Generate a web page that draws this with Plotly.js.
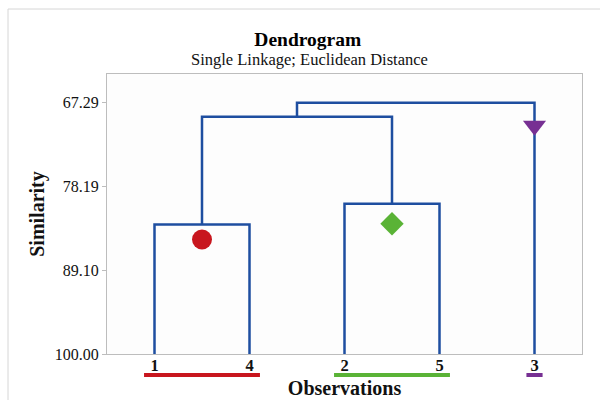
<!DOCTYPE html>
<html>
<head>
<meta charset="utf-8">
<script src="https://cdn.plot.ly/plotly-3.0.1.min.js"></script>
<style>html,body{margin:0;padding:0;background:#fff;}#chart{width:600px;height:400px;}</style>
</head>
<body>
<div id="chart"></div>
<script>
// Leaf order along the x axis
var leafLabels = ['1', '4', '2', '5', '3'];
// Merge steps: node ids 0..4 are leaves (by position), 5+ are clusters
var mergeLeft   = [0, 2, 5, 7];
var mergeRight  = [1, 3, 6, 4];
var mergeHeight = [83.13, 80.44, 69.10, 67.29];
// Tick values of the similarity axis
var yTicks = [67.29, 78.19, 89.10, 100.00];
// Cluster groups (leaf position ranges) and their colours/symbols
var groupStart = [0, 2, 4];
var groupEnd   = [1, 3, 4];
var groupColor = ['#c8161e', '#5ab336', '#773093'];
var groupSymbol = ['circle', 'diamond', 'triangle-down'];
var markerX = [0.5, 2.5, 4];
var markerY = [85.1, 83.04, 70.3];
var markerSize = [20, 18, 20];

var nodeX = [], nodeY = [];
for (var i = 0; i < leafLabels.length; i++) { nodeX.push(i); nodeY.push(100); }
var lx = [], ly = [];
for (var k = 0; k < mergeHeight.length; k++) {
  var a = mergeLeft[k], b = mergeRight[k], h = mergeHeight[k];
  lx.push(nodeX[a], nodeX[a], nodeX[b], nodeX[b], null);
  ly.push(nodeY[a], h, h, nodeY[b], null);
  nodeX.push((nodeX[a] + nodeX[b]) / 2);
  nodeY.push(h);
}

var traces = [
  {x: lx, y: ly, mode: 'lines', type: 'scatter', line: {color: '#1e4ea0', width: 2.5}, hoverinfo: 'skip', showlegend: false},
  {x: markerX, y: markerY, mode: 'markers', type: 'scatter', showlegend: false,
   marker: {color: groupColor, symbol: groupSymbol, size: markerSize, opacity: 1, line: {width: 0}}}
];

var shapes = [
  {type: 'rect', xref: 'paper', yref: 'paper', x0: (8 - 107) / 475, x1: 1.2, y0: -0.5, y1: (354 - 9) / 280,
   line: {color: '#d6d6d6', width: 1}, fillcolor: 'rgba(0,0,0,0)', layer: 'below'}
];
for (var g = 0; g < groupStart.length; g++) {
  var pad = groupStart[g] === groupEnd[g] ? 0.085 : 0.11;
  shapes.push({type: 'line', xref: 'x', yref: 'paper', x0: groupStart[g] - pad, x1: groupEnd[g] + pad,
    y0: -0.075, y1: -0.075, line: {color: groupColor[g], width: 4}});
}

var serif = 'Liberation Serif, Times New Roman, serif';
var layout = {
  width: 600, height: 400,
  margin: {l: 107, r: 18, t: 74, b: 46},
  paper_bgcolor: '#ffffff', plot_bgcolor: '#fdfdfd',
  font: {family: serif, color: '#111'},
  title: {text: '<b>Dendrogram</b>', font: {family: serif, size: 19.5, color: '#000'},
          xref: 'container', x: 0.513, xanchor: 'center', yref: 'container', y: 0.92, yanchor: 'top'},
  annotations: [
    {text: 'Single Linkage; Euclidean Distance', xref: 'paper', yref: 'paper', x: (309 - 107) / 475,
     y: (354 - 60) / 280, xanchor: 'center', yanchor: 'middle', showarrow: false,
     font: {family: serif, size: 16.5, color: '#111'}}
  ],
  xaxis: {range: [-0.5, 4.5], tickvals: [0, 1, 2, 3, 4],
          ticktext: leafLabels.map(function (s) { return '<b>' + s + '</b>'; }),
          tickfont: {family: serif, size: 16.5, color: '#111'}, ticks: '', ticklabelstandoff: -4,
          showgrid: false, zeroline: false,
          showline: true, linecolor: '#bdbdbd', linewidth: 1, mirror: true, fixedrange: true,
          title: {text: '<b>Observations</b>', font: {family: serif, size: 20, color: '#111'}, standoff: 7}},
  yaxis: {range: [100, 63.55], tickvals: yTicks, ticktext: yTicks.map(function (v) { return v.toFixed(2); }),
          tickfont: {family: serif, size: 16, color: '#111'}, ticks: 'outside', ticklen: 4, tickcolor: '#bdbdbd',
          showgrid: false, zeroline: false, showline: true, linecolor: '#bdbdbd', linewidth: 1, mirror: true,
          title: {text: '<b>Similarity</b>', font: {family: serif, size: 20, color: '#111'}, standoff: 4}},
  shapes: shapes
};
Plotly.newPlot('chart', traces, layout, {displayModeBar: false, staticPlot: true});
</script>
</body>
</html>
